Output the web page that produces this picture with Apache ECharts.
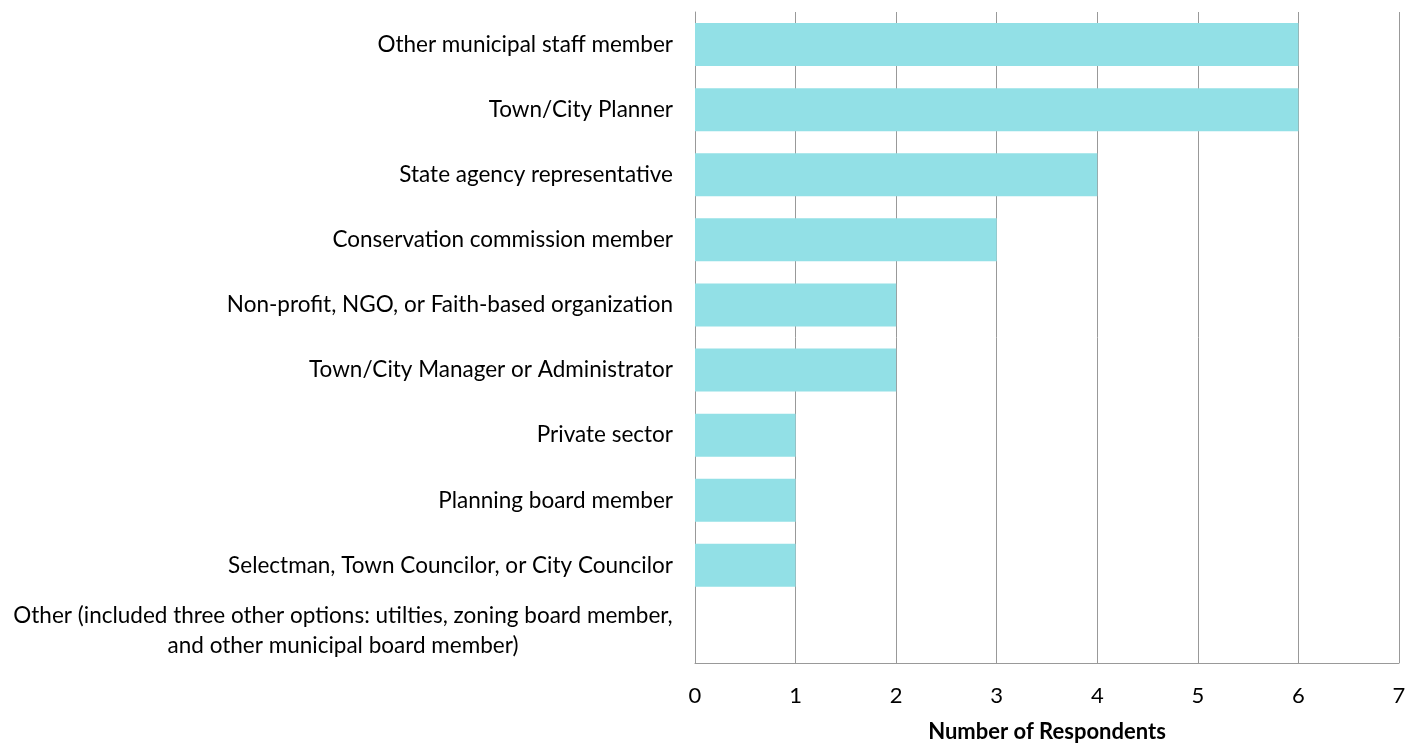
<!DOCTYPE html>
<html>
<head>
<meta charset="utf-8">
<script src="https://cdn.jsdelivr.net/npm/echarts@6/dist/echarts.min.js"></script>
<style>
  html, body { margin: 0; padding: 0; background: #fff; }
  #chart { width: 1420px; height: 745px; }
</style>
</head>
<body>
<div id="chart"></div>
<script>
var categories = [
  'Other municipal staff member',
  'Town/City Planner',
  'State agency representative',
  'Conservation commission member',
  'Non-profit, NGO, or Faith-based organization',
  'Town/City Manager or Administrator',
  'Private sector',
  'Planning board member',
  'Selectman, Town Councilor, or City Councilor',
  'Other (included three other options: utilties, zoning board member,\nand other municipal board member)'
];
var respondents = [6, 6, 4, 3, 2, 2, 1, 1, 1, 0];
var xTicks = [0, 1, 2, 3, 4, 5, 6, 7];

var chart = echarts.init(document.getElementById('chart'));
chart.setOption({
  animation: false,
  textStyle: { fontFamily: 'Lato' },
  grid: { left: 695, right: 21, top: 12, bottom: 82, outerBoundsMode: 'none', containLabel: false },
  xAxis: {
    type: 'value',
    min: xTicks[0],
    max: xTicks[xTicks.length - 1],
    interval: 1,
    name: 'Number of Respondents',
    nameLocation: 'middle',
    nameGap: 58,
    nameTextStyle: { fontSize: 22, fontWeight: 'bold', color: '#000' },
    axisLine: { show: true, lineStyle: { color: '#999', width: 1 } },
    axisTick: { show: false },
    axisLabel: { fontSize: 22, color: '#000', margin: 22 },
    splitLine: { show: true, lineStyle: { color: '#999', width: 1 } }
  },
  yAxis: {
    type: 'category',
    inverse: true,
    data: categories,
    axisLine: { show: true, lineStyle: { color: '#999', width: 1 } },
    axisTick: { show: false },
    axisLabel: {
      fontSize: 22.5,
      color: '#000',
      margin: 22,
      align: 'right',
      formatter: function (v) {
        if (v.indexOf('\n') < 0) return v;
        return v.split('\n').map(function (s) { return '{c|' + s + '}'; }).join('\n');
      },
      rich: {
        c: { fontSize: 22.5, color: '#000', width: 660, align: 'center', lineHeight: 30 }
      }
    }
  },
  series: [{
    type: 'bar',
    data: respondents,
    barCategoryGap: '34%',
    itemStyle: { color: '#92e0e6' }
  }]
});
</script>
</body>
</html>
